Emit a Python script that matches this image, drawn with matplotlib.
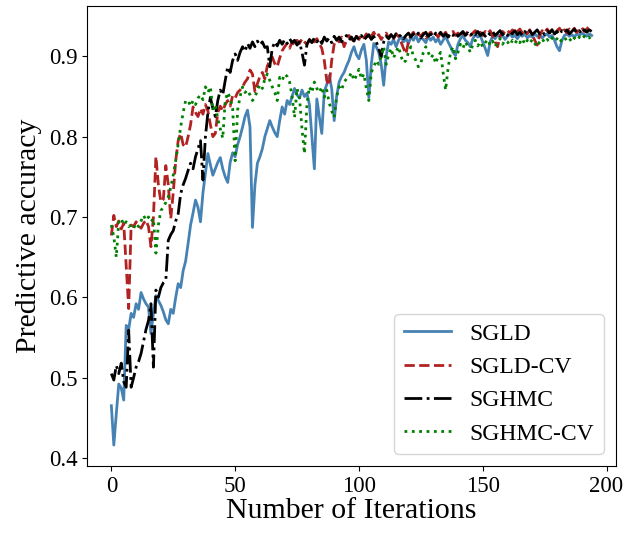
import numpy as np
import matplotlib
matplotlib.use("Agg")
import matplotlib.pyplot as plt

plt.rcParams['font.family'] = ['Liberation Serif', 'DejaVu Serif']

sgld = [
    0.465, 0.416, 0.455, 0.492, 0.487, 0.472, 0.565, 0.560, 0.580, 0.575,
    0.592, 0.585, 0.606, 0.598, 0.592, 0.588, 0.555, 0.580, 0.602, 0.596,
    0.590, 0.582, 0.572, 0.567, 0.585, 0.580, 0.600, 0.617, 0.612, 0.633,
    0.645, 0.667, 0.690, 0.705, 0.721, 0.712, 0.694, 0.730, 0.755, 0.779,
    0.765, 0.752, 0.760, 0.768, 0.774, 0.760, 0.750, 0.743, 0.768, 0.780,
    0.775, 0.790, 0.800, 0.812, 0.825, 0.833, 0.812, 0.687, 0.740, 0.767,
    0.775, 0.785, 0.800, 0.810, 0.820, 0.812, 0.805, 0.800, 0.820, 0.837,
    0.828, 0.845, 0.840, 0.850, 0.860, 0.852, 0.848, 0.858, 0.850, 0.854,
    0.840, 0.800, 0.760, 0.847, 0.825, 0.804, 0.856, 0.865, 0.876, 0.860,
    0.820, 0.850, 0.868, 0.875, 0.880, 0.888, 0.895, 0.905, 0.912, 0.902,
    0.897, 0.908, 0.915, 0.895, 0.849, 0.890, 0.916, 0.912, 0.905, 0.890,
    0.864, 0.900, 0.918, 0.915, 0.921, 0.912, 0.920, 0.925, 0.918, 0.922,
    0.916, 0.924, 0.920, 0.926, 0.918, 0.923, 0.921, 0.917, 0.925, 0.920,
    0.924, 0.918, 0.922, 0.915, 0.920, 0.925, 0.918, 0.912, 0.905, 0.901,
    0.915, 0.922, 0.926, 0.920, 0.917, 0.912, 0.922, 0.927, 0.924, 0.926,
    0.918, 0.910, 0.901, 0.918, 0.925, 0.922, 0.927, 0.924, 0.926, 0.921,
    0.925, 0.928, 0.924, 0.926, 0.922, 0.927, 0.925, 0.928, 0.923, 0.926,
    0.924, 0.928, 0.925, 0.927, 0.923, 0.926, 0.928, 0.924, 0.926, 0.920,
    0.912, 0.907, 0.920, 0.926, 0.928, 0.925, 0.927, 0.924, 0.928, 0.926,
    0.929, 0.927, 0.925, 0.928, 0.926,
]

sgld_cv = [
    0.677, 0.702, 0.688, 0.695, 0.685, 0.692, 0.640, 0.586, 0.690, 0.688,
    0.694, 0.690, 0.686, 0.692, 0.696, 0.688, 0.663, 0.700, 0.775, 0.740,
    0.719, 0.722, 0.764, 0.740, 0.698, 0.730, 0.770, 0.795, 0.804, 0.790,
    0.787, 0.800, 0.815, 0.837, 0.830, 0.825, 0.835, 0.828, 0.840, 0.832,
    0.815, 0.800, 0.804, 0.830, 0.838, 0.832, 0.840, 0.845, 0.838, 0.851,
    0.848, 0.855, 0.858, 0.862, 0.868, 0.872, 0.883, 0.878, 0.856, 0.866,
    0.875, 0.880, 0.872, 0.888, 0.895, 0.899, 0.891, 0.887, 0.898, 0.907,
    0.912, 0.916, 0.910, 0.918, 0.914, 0.920, 0.916, 0.922, 0.918, 0.915,
    0.920, 0.924, 0.918, 0.922, 0.916, 0.910, 0.895, 0.870, 0.864, 0.895,
    0.915, 0.922, 0.918, 0.924, 0.912, 0.920, 0.926, 0.922, 0.918, 0.925,
    0.921, 0.927, 0.923, 0.928, 0.920, 0.925, 0.930, 0.924, 0.927, 0.921,
    0.926, 0.929, 0.923, 0.927, 0.922, 0.928, 0.925, 0.918, 0.910, 0.903,
    0.918, 0.926, 0.930, 0.924, 0.928, 0.925, 0.929, 0.923, 0.927, 0.930,
    0.925, 0.928, 0.924, 0.929, 0.926, 0.930, 0.924, 0.928, 0.931, 0.926,
    0.929, 0.925, 0.930, 0.927, 0.931, 0.926, 0.929, 0.932, 0.927, 0.930,
    0.926, 0.931, 0.928, 0.932, 0.925, 0.918, 0.912, 0.925, 0.931, 0.928,
    0.932, 0.929, 0.933, 0.928, 0.931, 0.934, 0.929, 0.932, 0.928, 0.933,
    0.927, 0.920, 0.914, 0.926, 0.932, 0.929, 0.934, 0.930, 0.933, 0.928,
    0.932, 0.935, 0.930, 0.933, 0.929, 0.934, 0.931, 0.935, 0.930, 0.933,
    0.936, 0.931, 0.934, 0.937, 0.935,
]

sghmc = [
    0.505, 0.497, 0.515, 0.505, 0.518, 0.495, 0.488, 0.559, 0.488, 0.500,
    0.513, 0.520, 0.530, 0.545, 0.560, 0.571, 0.592, 0.513, 0.609, 0.600,
    0.612, 0.618, 0.621, 0.671, 0.678, 0.683, 0.695, 0.704, 0.729, 0.740,
    0.748, 0.758, 0.767, 0.760, 0.775, 0.785, 0.795, 0.746, 0.800, 0.830,
    0.849, 0.835, 0.825, 0.845, 0.858, 0.852, 0.870, 0.887, 0.880, 0.895,
    0.903, 0.895, 0.905, 0.912, 0.906, 0.916, 0.910, 0.918, 0.912, 0.919,
    0.914, 0.918, 0.911, 0.912, 0.887, 0.910, 0.918, 0.913, 0.920, 0.915,
    0.921, 0.916, 0.922, 0.917, 0.920, 0.914, 0.918, 0.905, 0.889, 0.915,
    0.921, 0.917, 0.923, 0.918, 0.922, 0.916, 0.924, 0.919, 0.923, 0.917,
    0.925, 0.920, 0.924, 0.918, 0.923, 0.926, 0.920, 0.924, 0.919, 0.925,
    0.921, 0.926, 0.920, 0.924, 0.927, 0.921, 0.925, 0.918, 0.910, 0.899,
    0.918, 0.925, 0.922, 0.927, 0.923, 0.928, 0.924, 0.927, 0.922, 0.926,
    0.929, 0.924, 0.928, 0.925, 0.929, 0.923, 0.927, 0.930, 0.925, 0.928,
    0.924, 0.929, 0.926, 0.930, 0.925, 0.928, 0.924, 0.929, 0.926, 0.930,
    0.925, 0.928, 0.931, 0.926, 0.929, 0.925, 0.930, 0.927, 0.931, 0.926,
    0.929, 0.925, 0.930, 0.927, 0.931, 0.926, 0.929, 0.932, 0.927, 0.930,
    0.926, 0.931, 0.928, 0.932, 0.927, 0.930, 0.926, 0.931, 0.928, 0.932,
    0.927, 0.930, 0.933, 0.928, 0.931, 0.927, 0.932, 0.929, 0.933, 0.928,
    0.931, 0.927, 0.932, 0.929, 0.933, 0.928, 0.931, 0.934, 0.929, 0.932,
    0.928, 0.933, 0.930, 0.933, 0.931,
]

sghmc_cv = [
    0.690, 0.675, 0.650, 0.694, 0.698, 0.690, 0.694, 0.688, 0.690, 0.686,
    0.692, 0.688, 0.695, 0.702, 0.696, 0.700, 0.694, 0.698, 0.655, 0.690,
    0.708, 0.712, 0.718, 0.725, 0.737, 0.752, 0.770, 0.791, 0.812, 0.830,
    0.845, 0.845, 0.838, 0.845, 0.840, 0.848, 0.852, 0.846, 0.862, 0.855,
    0.862, 0.833, 0.840, 0.822, 0.810, 0.798, 0.845, 0.855, 0.848, 0.835,
    0.770, 0.833, 0.850, 0.862, 0.855, 0.858, 0.852, 0.845, 0.849, 0.858,
    0.865, 0.860, 0.872, 0.878, 0.870, 0.862, 0.855, 0.845, 0.874, 0.870,
    0.878, 0.875, 0.868, 0.850, 0.824, 0.860, 0.848, 0.810, 0.779, 0.840,
    0.862, 0.855, 0.868, 0.860, 0.855, 0.862, 0.849, 0.858, 0.842, 0.832,
    0.824, 0.850, 0.862, 0.858, 0.868, 0.872, 0.874, 0.880, 0.870, 0.876,
    0.884, 0.872, 0.878, 0.860, 0.845, 0.880, 0.887, 0.895, 0.890, 0.900,
    0.912, 0.890, 0.902, 0.910, 0.898, 0.906, 0.912, 0.900, 0.892, 0.895,
    0.905, 0.912, 0.900, 0.895, 0.887, 0.891, 0.905, 0.912, 0.905, 0.898,
    0.902, 0.891, 0.900, 0.905, 0.880, 0.858, 0.885, 0.905, 0.912, 0.897,
    0.905, 0.915, 0.910, 0.918, 0.912, 0.905, 0.915, 0.920, 0.913, 0.918,
    0.912, 0.917, 0.921, 0.914, 0.919, 0.912, 0.918, 0.922, 0.915, 0.920,
    0.918, 0.914, 0.920, 0.916, 0.921, 0.917, 0.922, 0.915, 0.920, 0.916,
    0.921, 0.916, 0.912, 0.918, 0.922, 0.917, 0.921, 0.918, 0.923, 0.919,
    0.922, 0.917, 0.921, 0.924, 0.919, 0.922, 0.918, 0.923, 0.920, 0.924,
    0.921, 0.925, 0.922, 0.924, 0.918,
]

series = [
    ("SGLD", sgld, dict(color="steelblue", linestyle="-")),
    ("SGLD-CV", sgld_cv, dict(color="firebrick", linestyle="--")),
    ("SGHMC", sghmc, dict(color="black", linestyle="-.")),
    ("SGHMC-CV", sghmc_cv, dict(color="green", linestyle=":")),
]

fig = plt.figure(figsize=(6.26, 5.33), dpi=100)
ax = fig.add_axes([0.1395, 0.1257, 0.844, 0.8636])

for name, vals, style in series:
    ax.plot(np.arange(len(vals)), vals, label=name, linewidth=2, **style)

ax.set_xticks([0, 50, 100, 150, 200])
ax.set_yticks([0.4, 0.5, 0.6, 0.7, 0.8, 0.9])
ax.tick_params(labelsize=16.5)
ax.set_xlabel("Number of Iterations", fontsize=21.5, labelpad=1)
ax.set_ylabel("Predictive accuracy", fontsize=21.5, labelpad=5)
ax.legend(loc="lower right", fontsize=17)

fig.savefig("out.png", dpi=100)
